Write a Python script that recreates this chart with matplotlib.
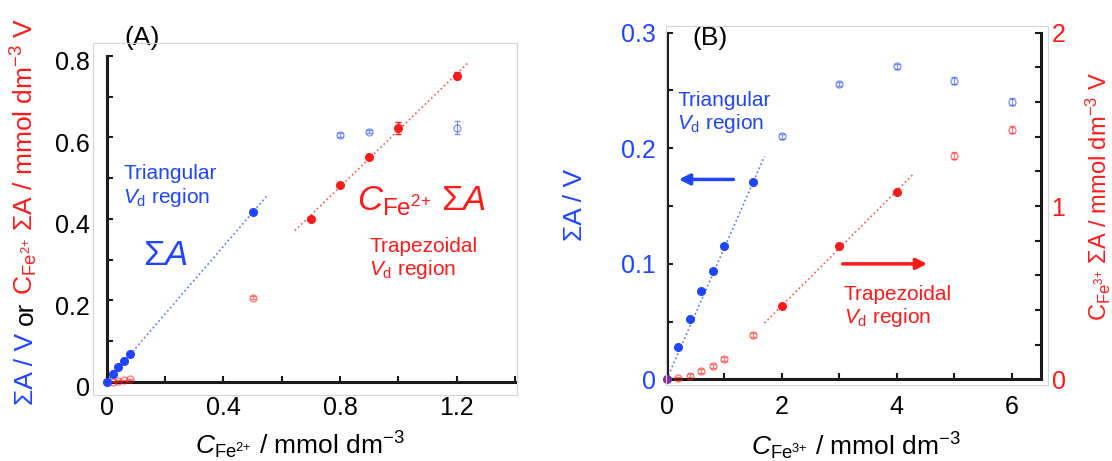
import numpy as np
import matplotlib
matplotlib.use("Agg")
import matplotlib.pyplot as plt
from matplotlib.patches import Rectangle
from matplotlib.ticker import MultipleLocator
import matplotlib.transforms as mtransforms

plt.rcParams['font.family'] = ['Liberation Sans', 'DejaVu Sans']
plt.rcParams['mathtext.fontset'] = 'custom'
plt.rcParams['mathtext.rm'] = 'Liberation Sans'
plt.rcParams['mathtext.it'] = 'Liberation Sans:italic'
plt.rcParams['mathtext.bf'] = 'Liberation Sans:bold'
plt.rcParams['mathtext.sf'] = 'Liberation Sans'

BLUE = '#1f45ff'
RED = '#ff1a1a'
SPINE = '#1a1a1a'

# ---------------- Panel A data (C_Fe2+ / mmol dm-3) ----------------
a_tri_c = [0.0, 0.02, 0.04, 0.06, 0.08, 0.5]
a_tri_sum = [0.0, 0.018, 0.035, 0.052, 0.069, 0.418]
a_tri_open_c = [0.8, 0.9, 1.2]
a_tri_open_sum = [0.606, 0.614, 0.624]
a_tri_open_err = [0.004, 0.004, 0.016]
a_trap_c = [0.7, 0.8, 0.9, 1.0, 1.2]
a_trap_csum = [0.400, 0.484, 0.552, 0.623, 0.752]
a_trap_err = [0.005, 0.005, 0.005, 0.014, 0.009]
a_trap_open_c = [0.0, 0.02, 0.04, 0.06, 0.08, 0.5]
a_trap_open_csum = [0.0, 0.0004, 0.0014, 0.003, 0.0055, 0.206]
a_trap_open_err = [0.002, 0.002, 0.002, 0.002, 0.002, 0.004]
a_fit_blue_x = [0.0, 0.55]
a_fit_blue_y = [0.0, 0.457]
a_fit_red_x = [0.645, 1.24]
a_fit_red_y = [0.371, 0.784]
a_xticks = [0.0, 0.4, 0.8, 1.2]
a_xticklabels = ['0', '0.4', '0.8', '1.2']
a_yticks = [0.0, 0.2, 0.4, 0.6, 0.8]
a_yticklabels = ['0', '0.2', '0.4', '0.6', '0.8']

# ---------------- Panel B data (C_Fe3+ / mmol dm-3) ----------------
b_tri_c = [0.0, 0.2, 0.4, 0.6, 0.8, 1.0, 1.5]
b_tri_sum = [0.0, 0.0277, 0.0523, 0.0766, 0.0936, 0.1153, 0.1705]
b_tri_open_c = [2, 3, 4, 5, 6]
b_tri_open_sum = [0.2104, 0.2555, 0.2708, 0.2584, 0.2402]
b_tri_open_err = [0.002, 0.002, 0.002, 0.003, 0.003]
b_trap_c = [2, 3, 4]
b_trap_csum = [0.424, 0.767, 1.083]
b_trap_err = [0.012, 0.012, 0.012]
b_trap_open_c = [0.0, 0.2, 0.4, 0.6, 0.8, 1.0, 1.5, 5, 6]
b_trap_open_csum = [0.0, 0.006, 0.021, 0.048, 0.077, 0.116, 0.256, 1.291, 1.441]
b_trap_open_err = [0.01, 0.01, 0.01, 0.01, 0.01, 0.01, 0.01, 0.02, 0.02]
b_fit_blue_x = [0.0, 1.70]
b_fit_blue_y = [0.0, 0.193]
b_fit_red_x = [1.70, 4.28]
b_fit_red_y = [0.324, 1.181]
b_xticks = [0, 2, 4, 6]
b_xticklabels = ['0', '2', '4', '6']
b_yticks = [0.0, 0.1, 0.2, 0.3]
b_yticklabels = ['0', '0.1', '0.2', '0.3']
b_y2ticks = [0, 1, 2]
b_y2ticklabels = ['0', '1', '2']

W, H = 1112, 461
fig = plt.figure(figsize=(W / 100, H / 100), dpi=100)

# light grey panel frames
fig.patches.append(Rectangle((93 / W, 1 - 395 / H), 424 / W, 352 / H, fill=False,
                             edgecolor='#d4d4d4', lw=0.8, transform=fig.transFigure))
fig.patches.append(Rectangle((666 / W, 1 - 385 / H), 382 / W, 359 / H, fill=False,
                             edgecolor='#d4d4d4', lw=0.8, transform=fig.transFigure))

axA = fig.add_axes([106.7 / W, 1 - 381.7 / H, 408.3 / W, 325.7 / H])
axB = fig.add_axes([666.7 / W, 1 - 379.3 / H, 373.8 / W, 346.6 / H])
axB2 = axB.twinx()

FILLED = dict(fmt='o', ms=5.5, elinewidth=1.0, capsize=2.5, capthick=1.0, clip_on=False, zorder=4)
OPEN = dict(fmt='o', ms=5.0, mfc='none', mew=1.0, elinewidth=0.8, capsize=2.2, capthick=0.8,
            alpha=0.55, clip_on=False, zorder=3)

# ---- Panel A ----
axA.plot(a_fit_blue_x, a_fit_blue_y, ls=':', color=BLUE, lw=1.2, alpha=0.75, zorder=2)
axA.plot(a_fit_red_x, a_fit_red_y, ls=':', color=RED, lw=1.2, alpha=0.75, zorder=2)
axA.errorbar(a_tri_c, a_tri_sum, yerr=0.002, color=BLUE, **FILLED)
axA.errorbar(a_tri_open_c, a_tri_open_sum, yerr=a_tri_open_err, color=BLUE, **OPEN)
axA.errorbar(a_trap_open_c, a_trap_open_csum, yerr=a_trap_open_err, color=RED, **OPEN)
axA.errorbar(a_trap_c, a_trap_csum, yerr=a_trap_err, color=RED, **FILLED)

axA.set_xlim(0, 1.4)
axA.set_ylim(0, 0.8)
axA.set_xticks(a_xticks, a_xticklabels)
axA.set_yticks(a_yticks, a_yticklabels)
axA.xaxis.set_minor_locator(MultipleLocator(0.2))
axA.yaxis.set_minor_locator(MultipleLocator(0.1))
for s in ['top', 'right']:
    axA.spines[s].set_visible(False)
for s in ['left', 'bottom']:
    axA.spines[s].set_linewidth(2.2)
    axA.spines[s].set_color(SPINE)
axA.tick_params(which='both', direction='in', length=4, width=1.5, color=SPINE)
axA.tick_params(axis='x', which='major', labelsize=18, pad=10)
axA.tick_params(axis='y', which='major', labelsize=18, pad=12)
off = mtransforms.ScaledTranslation(0, -5 / 100, fig.dpi_scale_trans)
for lbl in axA.get_yticklabels():
    lbl.set_transform(lbl.get_transform() + off)

axA.set_xlabel(r'$\mathit{C}_{\mathrm{Fe}^{2{+}}}$ / mmol dm$^{-3}$', fontsize=19)
axA.xaxis.set_label_coords((300 - 106.7) / 408.3, (381.7 - 445) / 325.7)
axA.xaxis.label.set_va('center')

axA.text(0.0865, 1.055, '(A)', transform=axA.transAxes, fontsize=19, ha='center', va='center')
axA.text(0.041, 0.668, 'Triangular\n$\\mathit{V}_{\\mathrm{d}}$ region', transform=axA.transAxes,
         fontsize=15, color=BLUE, ha='left', va='top', linespacing=1.15)
axA.text(0.143, 0.389, 'Σ$\\mathit{A}$', transform=axA.transAxes, fontsize=25, color=BLUE,
         ha='center', va='center')
axA.text(0.772, 0.555, r'$\mathit{C}_{\mathrm{Fe}^{2{+}}}$ Σ$\mathit{A}$', transform=axA.transAxes,
         fontsize=25, color=RED, ha='center', va='center')
axA.text(0.643, 0.445, 'Trapezoidal\n$\\mathit{V}_{\\mathrm{d}}$ region', transform=axA.transAxes,
         fontsize=15, color=RED, ha='left', va='top', linespacing=1.15)

# ---- Panel B ----
axB.plot(b_fit_blue_x, b_fit_blue_y, ls=':', color=BLUE, lw=1.2, alpha=0.75, zorder=2)
axB.errorbar(b_tri_c, b_tri_sum, yerr=0.0008, color=BLUE, **FILLED)
axB.errorbar(b_tri_open_c, b_tri_open_sum, yerr=b_tri_open_err, color=BLUE, **OPEN)
axB2.plot(b_fit_red_x, b_fit_red_y, ls=':', color=RED, lw=1.2, alpha=0.75, zorder=2)
axB2.errorbar(b_trap_open_c, b_trap_open_csum, yerr=b_trap_open_err, color=RED, **OPEN)
axB2.errorbar(b_trap_c, b_trap_csum, yerr=b_trap_err, color=RED, **FILLED)

axB.set_xlim(0, 6.5)
axB.set_ylim(0, 0.3)
axB2.set_ylim(0, 2)
axB.set_xticks(b_xticks, b_xticklabels)
axB.set_yticks(b_yticks, b_yticklabels)
axB2.set_yticks(b_y2ticks, b_y2ticklabels)
axB.xaxis.set_minor_locator(MultipleLocator(1))
axB.yaxis.set_minor_locator(MultipleLocator(0.05))
axB2.yaxis.set_minor_locator(MultipleLocator(0.2))
for a in (axB, axB2):
    a.spines['top'].set_visible(False)
    for s in ['left', 'bottom', 'right']:
        a.spines[s].set_linewidth(2.2)
        a.spines[s].set_color(SPINE)
axB2.spines['left'].set_visible(False)
axB2.spines['bottom'].set_visible(False)
axB.spines['right'].set_visible(False)
axB.tick_params(which='both', direction='in', length=4, width=1.5, color=SPINE)
axB2.tick_params(which='both', direction='in', length=4, width=1.5, color=SPINE)
axB.tick_params(axis='x', which='major', labelsize=18, pad=11)
axB.tick_params(axis='y', which='major', labelsize=18, pad=8, labelcolor=BLUE)
axB2.tick_params(axis='y', which='major', labelsize=18, pad=8, labelcolor=RED)

axB.set_xlabel(r'$\mathit{C}_{\mathrm{Fe}^{3{+}}}$ / mmol dm$^{-3}$', fontsize=19)
axB.xaxis.set_label_coords(0.505, (379.3 - 446.7) / 346.6)
axB.xaxis.label.set_va('center')
axB.set_ylabel('ΣA / V', fontsize=19, color=BLUE)
axB.yaxis.set_label_coords(-0.244, 0.503)
axB.yaxis.label.set_va('center')
axB2.set_ylabel(r'$\mathrm{C}_{\mathrm{Fe}^{3{+}}}$ ΣA / mmol dm$^{-3}$ V', fontsize=17, color=RED,
                rotation=90)
axB2.yaxis.set_label_coords(1.154, 0.526)
axB2.yaxis.label.set_va('center')

axB.text(0.116, 0.985, '(B)', transform=axB.transAxes, fontsize=19, ha='center', va='center')
axB.text(0.028, 0.832, 'Triangular\n$\\mathit{V}_{\\mathrm{d}}$ region', transform=axB.transAxes,
         fontsize=15, color=BLUE, ha='left', va='top', linespacing=1.15)
axB.text(0.4735, 0.273, 'Trapezoidal\n$\\mathit{V}_{\\mathrm{d}}$ region', transform=axB.transAxes,
         fontsize=15, color=RED, ha='left', va='top', linespacing=1.15)
axB.annotate('', xy=(0.21, 0.173), xytext=(1.16, 0.173),
             arrowprops=dict(arrowstyle='-|>', color=BLUE, lw=2.5, mutation_scale=16,
                             shrinkA=0, shrinkB=0))
axB2.annotate('', xy=(4.53, 0.666), xytext=(3.06, 0.666),
              arrowprops=dict(arrowstyle='-|>', color=RED, lw=2.5, mutation_scale=16,
                              shrinkA=0, shrinkB=0))

# ---- multi-coloured y label of panel A ----
ylab_a_parts = ['ΣA / V', 'or', r'$\mathrm{C}_{\mathrm{Fe}^{2{+}}}$ ΣA / mmol dm$^{-3}$ V']
ylab_a_colors = [BLUE, 'black', RED]
YLAB_FS = 19
fig.canvas.draw()
ren = fig.canvas.get_renderer()
ident = mtransforms.IdentityTransform()
tx = []
for s, c in zip(ylab_a_parts, ylab_a_colors):
    tx.append(fig.text(0, 0, s, rotation=90, rotation_mode='anchor', ha='left', va='baseline',
                       color=c, fontsize=YLAB_FS, transform=ident))
lens = [t.get_window_extent(ren).height for t in tx]
gap = 0.28 * YLAB_FS * 100 / 72
total = sum(lens) + gap * (len(lens) - 1)
y0 = (H - 211) - total / 2
xb = 33
for t, L in zip(tx, lens):
    t.set_position((xb, y0))
    y0 += L + gap

fig.savefig('out.png', dpi=100)
